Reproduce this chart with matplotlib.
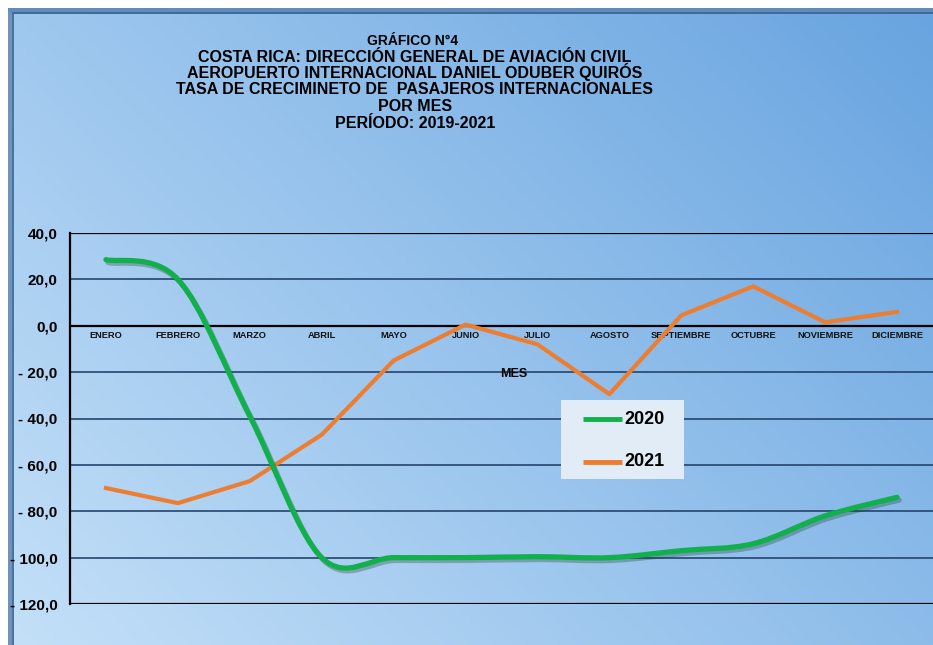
import matplotlib
matplotlib.use('Agg')
import matplotlib.pyplot as plt
import matplotlib.patheffects as pe
import numpy as np
from matplotlib.path import Path
from matplotlib.patches import PathPatch, Rectangle

meses = ['ENERO', 'FEBRERO', 'MARZO', 'ABRIL', 'MAYO', 'JUNIO', 'JULIO',
         'AGOSTO', 'SEPTIEMBRE', 'OCTUBRE', 'NOVIEMBRE', 'DICIEMBRE']
tasa_2020 = [28.5, 20.0, -39.0, -100.0, -100.0, -100.0, -99.6, -100.0,
             -97.0, -94.0, -82.0, -74.0]
tasa_2021 = [-70.0, -76.5, -67.0, -47.0, -15.0, 0.5, -8.0, -29.5,
             4.5, 17.0, 1.5, 6.0]
series = ['2020', '2021']
y_ticks = [40, 20, 0, -20, -40, -60, -80, -100, -120]
y_labels = ['40,0', '20,0', '0,0', '- 20,0', '- 40,0', '- 60,0', '- 80,0',
            '- 100,0', '- 120,0']
titulo = ['COSTA RICA: DIRECCIÓN GENERAL DE AVIACIÓN CIVIL',
          'AEROPUERTO INTERNACIONAL DANIEL ODUBER QUIRÓS',
          'TASA DE CRECIMINETO DE  PASAJEROS INTERNACIONALES',
          'POR MES',
          'PERÍODO: 2019-2021']

VERDE = '#12b04c'
NARANJA = '#ed7d31'
plt.rcParams['font.family'] = ['Liberation Sans', 'DejaVu Sans']


def smooth_path(xs, ys):
    # excel-like smoothed line (catmull-rom as cubic bezier)
    pts = np.column_stack([xs, ys])
    n = len(pts)
    verts = [pts[0]]
    codes = [Path.MOVETO]
    for i in range(n - 1):
        p0 = pts[max(i - 1, 0)]
        p1 = pts[i]
        p2 = pts[i + 1]
        p3 = pts[min(i + 2, n - 1)]
        c1 = p1 + (p2 - p0) / 6.0
        c2 = p2 - (p3 - p1) / 6.0
        verts += [c1, c2, p2]
        codes += [Path.CURVE4] * 3
    return Path(verts, codes)


W, H = 933, 645
fig = plt.figure(figsize=(W / 100, H / 100), dpi=100, facecolor='white')

# gradient background
bg = fig.add_axes([8 / W, 0, 1 - 8 / W, 1 - 8 / H], zorder=-10)
light = np.array([196, 224, 248]) / 255
dark = np.array([104, 164, 224]) / 255
gx, gy = np.meshgrid(np.linspace(0, 1, 200), np.linspace(0, 1, 200))
t = (gx * 0.6 + gy * 0.4)
img = light[None, None, :] * (1 - t[..., None]) + dark[None, None, :] * t[..., None]
bg.imshow(img, origin='lower', extent=[0, 1, 0, 1], aspect='auto')
bg.set_axis_off()

# frame borders
fig.patches.append(Rectangle((8 / W, 0), 4 / W, 1 - 8 / H, transform=fig.transFigure,
                             facecolor='#6f93bb', edgecolor='none', zorder=-5))
fig.patches.append(Rectangle((12 / W, 0), 2 / W, 1 - 12 / H, transform=fig.transFigure,
                             facecolor='#4a73a0', edgecolor='none', zorder=-5))
fig.patches.append(Rectangle((8 / W, 1 - 12 / H), 1 - 8 / W, 4 / H, transform=fig.transFigure,
                             facecolor='#5f8cbd', edgecolor='none', zorder=-5))
fig.patches.append(Rectangle((12 / W, 1 - 14 / H), 1 - 12 / W, 2 / H, transform=fig.transFigure,
                             facecolor='#3f6a9a', edgecolor='none', zorder=-5))

ax = fig.add_axes([70 / W, 1 - 604 / H, 1 - 70 / W, (604 - 233) / H])
ax.set_facecolor('none')
x = np.arange(len(meses))
ax.set_xlim(-0.5, len(meses) - 0.5)
ax.set_ylim(-120, 40)

for v in y_ticks:
    if v in (40, 0, -120):
        ax.axhline(v, color='black', lw=1.6, zorder=1)
    else:
        ax.axhline(v, color='#24456d', lw=1.2, zorder=1)

ax.set_yticks(y_ticks)
ax.set_yticklabels(y_labels, fontsize=11, fontweight='bold')
ax.tick_params(axis='y', length=0, pad=9)

ax.spines['bottom'].set_position(('data', 0))
ax.spines['bottom'].set_visible(False)
ax.spines['top'].set_visible(False)
ax.spines['right'].set_visible(False)
ax.spines['left'].set_linewidth(1.6)
ax.set_xticks(x)
ax.set_xticklabels(meses, fontsize=6.7, fontweight='bold', color='#111111')
ax.tick_params(axis='x', length=0, pad=4)

fig.text(514 / W, 1 - 374 / H, 'MES', fontsize=9, fontweight='bold',
         ha='center', va='center')

# 2020 smoothed line with shadow
patch = PathPatch(smooth_path(x, tasa_2020), facecolor='none', edgecolor=VERDE,
                  lw=3.8, capstyle='round', zorder=4)
patch.set_path_effects([pe.SimpleLineShadow(offset=(1.5, -2), shadow_color='#1d3b2a',
                                            alpha=0.3),
                        pe.Normal()])
ax.add_patch(patch)

ax.plot(x, tasa_2021, color=NARANJA, lw=3.0, zorder=3)

# legend box
lg = fig.add_axes([561 / W, 1 - 479 / H, 123 / W, 79 / H])
lg.set_facecolor('#e1ecf7')
lg.set_xlim(0, 123)
lg.set_ylim(0, 79)
lg.set_xticks([])
lg.set_yticks([])
for s in lg.spines.values():
    s.set_visible(False)
for nombre, color, yc in zip(series, [VERDE, NARANJA], [60, 17]):
    lg.plot([22, 61], [yc, yc], color=color, lw=3.5, solid_capstyle='butt')
    lg.text(63, yc, nombre, fontsize=13, fontweight='bold', va='center', ha='left')

fig.text(413 / W, 1 - 45 / H, 'GRÁFICO N°4', fontsize=10, fontweight='bold',
         ha='center', va='baseline')
for i, linea in enumerate(titulo):
    fig.text(415 / W, 1 - (61.5 + i * 16.5) / H, linea, fontsize=11.5,
             fontweight='bold', ha='center', va='baseline')

fig.savefig('out.png', dpi=100)
